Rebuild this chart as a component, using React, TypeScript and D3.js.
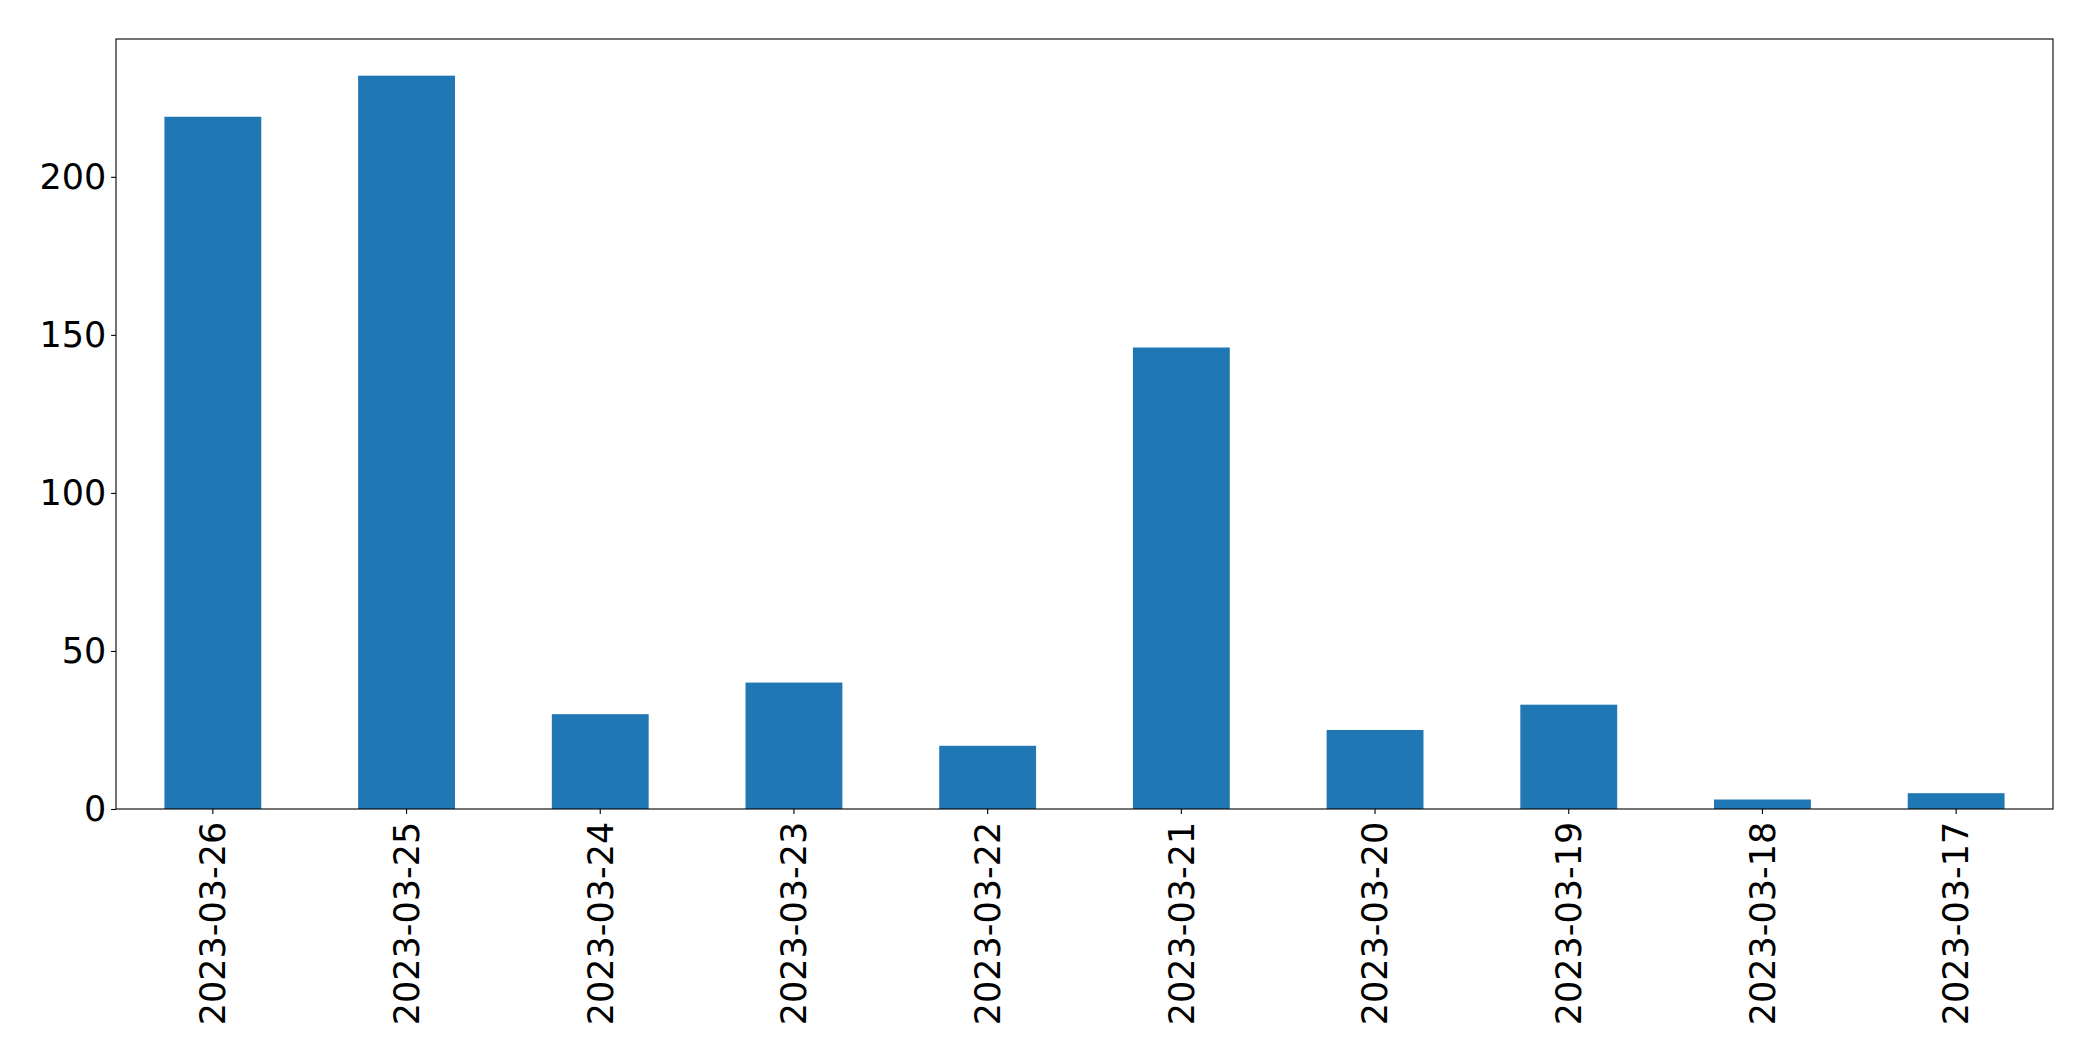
import React, { useEffect, useRef } from 'react';
import * as d3 from 'd3';

const dates = [
  '2023-03-26', '2023-03-25', '2023-03-24', '2023-03-23', '2023-03-22',
  '2023-03-21', '2023-03-20', '2023-03-19', '2023-03-18', '2023-03-17',
];
const counts = [219, 232, 30, 40, 20, 146, 25, 33, 3, 5];
const yTicks = [0, 50, 100, 150, 200];

const W = 2093;
const H = 1061;

export default function App() {
  const svgRef = useRef<SVGSVGElement>(null);

  useEffect(() => {
    if (!svgRef.current) return;
    document.body.style.margin = '0';

    const margin = { top: 39, right: 40, bottom: 252, left: 116 };
    const width = W - margin.left - margin.right;
    const height = H - margin.top - margin.bottom;
    const font = 'DejaVu Sans, sans-serif';
    const fontSize = 35;

    const root = d3.select(svgRef.current);
    root.selectAll('*').remove();

    const svg = root.append('g')
      .attr('transform', `translate(${margin.left},${margin.top})`);

    // band scale mimicking pandas bar: width 0.5 of each slot
    const x = d3.scaleBand<string>()
      .domain(dates)
      .range([0, width])
      .paddingInner(0.5)
      .paddingOuter(0.25);

    const yMax = d3.max(counts) as number * 1.05;
    const y = d3.scaleLinear().domain([0, yMax]).range([height, 0]);

    svg.selectAll('.bar')
      .data(dates)
      .enter()
      .append('rect')
      .attr('class', 'bar')
      .attr('x', d => x(d) as number)
      .attr('width', x.bandwidth())
      .attr('y', (_, i) => y(counts[i]))
      .attr('height', (_, i) => height - y(counts[i]))
      .attr('fill', '#1f77b4');

    // frame
    svg.append('rect')
      .attr('x', 0)
      .attr('y', 0)
      .attr('width', width)
      .attr('height', height)
      .attr('fill', 'none')
      .attr('stroke', '#000')
      .attr('stroke-width', 1.1);

    const tickLen = 4.9;
    const pad = 4.9;

    // y axis
    const yAxis = svg.append('g')
      .call(d3.axisLeft(y).tickValues(yTicks).tickSize(tickLen).tickPadding(pad).tickFormat(d3.format('d')));
    yAxis.select('.domain').remove();
    yAxis.selectAll('line').attr('stroke', '#000').attr('stroke-width', 1.1);
    yAxis.selectAll('text')
      .attr('font-family', font)
      .attr('font-size', fontSize)
      .attr('fill', '#000');

    // x axis
    const xAxis = svg.append('g')
      .attr('transform', `translate(0,${height})`)
      .call(d3.axisBottom(x).tickSize(tickLen).tickPadding(pad));
    xAxis.select('.domain').remove();
    xAxis.selectAll('line').attr('stroke', '#000').attr('stroke-width', 1.1);
    xAxis.selectAll('text')
      .attr('font-family', font)
      .attr('font-size', fontSize)
      .attr('fill', '#000')
      .attr('text-anchor', 'end')
      .attr('dy', '0.35em')
      .attr('y', 0)
      .attr('x', 0)
      .attr('transform', `translate(0,${tickLen + pad + 3}) rotate(-90)`);
  }, []);

  return (
    <svg
      ref={svgRef}
      width={W}
      height={H}
      style={{ position: 'absolute', left: 0, top: 0, background: '#fff' }}
    />
  );
}
